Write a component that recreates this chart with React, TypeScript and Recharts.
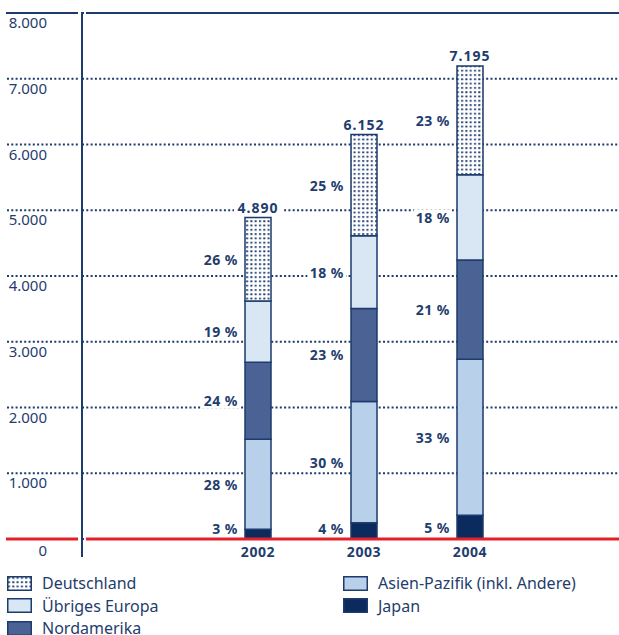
import React from 'react';
import { BarChart, Bar, XAxis, YAxis, CartesianGrid, ReferenceLine, LabelList } from 'recharts';

const years = ['2002', '2003', '2004'];
const totals = [4890, 6152, 7195];
const japan = [147, 246, 360];
const asien = [1369, 1846, 2374];
const nordamerika = [1174, 1415, 1511];
const europa = [929, 1107, 1295];
const deutschland = [1271, 1538, 1655];
const pctJapan = [3, 4, 5];
const pctAsien = [28, 30, 33];
const pctNord = [24, 23, 21];
const pctEuropa = [19, 18, 18];
const pctDeutsch = [26, 25, 23];
const yTicks = [0, 1000, 2000, 3000, 4000, 5000, 6000, 7000, 8000];

const data = years.map((y, i) => ({
  year: y,
  total: totals[i],
  japan: japan[i],
  asien: asien[i],
  nord: nordamerika[i],
  europa: europa[i],
  deutsch: deutschland[i],
  pJapan: pctJapan[i],
  pAsien: pctAsien[i],
  pNord: pctNord[i],
  pEuropa: pctEuropa[i],
  pDeutsch: pctDeutsch[i],
}));

const NAVY = '#1d3b6c';
const TEXT = '#1f3d6d';
const RED = '#e3202a';
const FONT = '"Noto Sans", sans-serif';

const C_JAPAN = '#0b2b5e';
const C_ASIEN = '#b9d0ea';
const C_NORD = '#4b6294';
const C_EUROPA = '#d9e6f4';

const fmt = (v: number) => (v === 0 ? '0' : v.toLocaleString('de-DE'));

const YTick = (props: any) => {
  const { y, payload } = props;
  const v = payload.value;
  let line;
  if (v === 0) {
    line = (
      <g>
        <line x1={6} x2={78} y1={y} y2={y} stroke={RED} strokeWidth={3} />
        <line x1={82} x2={82} y1={y - 527} y2={y + 18} stroke={NAVY} strokeWidth={2} />
      </g>
    );
  } else if (v === 8000) {
    line = <line x1={6} x2={78} y1={y} y2={y} stroke={NAVY} strokeWidth={2} />;
  } else {
    line = <line x1={7} x2={80} y1={y} y2={y} stroke={NAVY} strokeWidth={2} strokeDasharray="2 2.3" />;
  }
  return (
    <g>
      {line}
      <text x={47} y={y + (v === 0 ? 11 : 9)} textAnchor="end" dominantBaseline="central" fill={TEXT} fontSize={15} fontFamily={FONT}>
        {fmt(v)}
      </text>
    </g>
  );
};

const XTick = (props: any) => {
  const { x, y, payload } = props;
  return (
    <text x={x} y={y + 4} textAnchor="middle" dominantBaseline="central" fill={TEXT} fontSize={14} fontWeight="bold" letterSpacing={0.6} fontFamily={FONT}>
      {payload.value}
    </text>
  );
};

const PctLabel = (props: any) => {
  const { x, y, height, value } = props;
  const text = `${value} %`;
  const cy = Math.min(y + height / 2, y + height - 11);
  const w = text.length * 8.6;
  return (
    <g>
      <rect x={x - 9 - w} y={cy - 8} width={w + 4} height={16} fill="#ffffff" />
      <text x={x - 7} y={cy} textAnchor="end" dominantBaseline="central" fill={TEXT} fontSize={14} fontWeight="bold" letterSpacing={0.5} fontFamily={FONT}>
        {text}
      </text>
    </g>
  );
};

const TotalLabel = (props: any) => {
  const { x, y, width, value } = props;
  const text = fmt(value);
  const w = text.length * 8.4 + 6;
  return (
    <g>
      <rect x={x + width / 2 - w / 2} y={y - 18} width={w} height={16} fill="#ffffff" />
      <text x={x + width / 2} y={y - 10} textAnchor="middle" dominantBaseline="central" fill={TEXT} fontSize={14} fontWeight="bold" letterSpacing={1} fontFamily={FONT}>
        {text}
      </text>
    </g>
  );
};

const HLine = (color: string, w: number) => (props: any) => {
  const { x1, x2, y1 } = props;
  return <line x1={x1 + 4} x2={x2} y1={y1} y2={y1} stroke={color} strokeWidth={w} />;
};

const legendItems = [
  { label: 'Deutschland', fill: 'url(#dots)', col: 0, row: 0 },
  { label: 'Übriges Europa', fill: C_EUROPA, col: 0, row: 1 },
  { label: 'Nordamerika', fill: C_NORD, col: 0, row: 2 },
  { label: 'Asien-Pazifik (inkl. Andere)', fill: C_ASIEN, col: 1, row: 0 },
  { label: 'Japan', fill: C_JAPAN, col: 1, row: 1 },
];

export default function App() {
  return (
    <div style={{ position: 'absolute', left: 0, top: 0, width: 619, height: 635, background: '#fff', overflow: 'hidden' }}>
      <svg width={0} height={0} style={{ position: 'absolute' }}>
        <defs>
          <pattern id="dots" patternUnits="userSpaceOnUse" width={4.3} height={4.3}>
            <rect x={0} y={0} width={4.3} height={4.3} fill="#ffffff" />
            <rect x={1} y={1} width={2} height={1.8} fill={NAVY} />
          </pattern>
        </defs>
      </svg>
      <BarChart width={619} height={635} data={data} margin={{ top: 13, right: 0, bottom: 66, left: 0 }} barSize={26}>
        <defs>
          <pattern id="dotsChart" patternUnits="userSpaceOnUse" width={4.3} height={4.3}>
            <rect x={0} y={0} width={4.3} height={4.3} fill="#ffffff" />
            <rect x={1} y={1} width={2} height={1.8} fill={NAVY} />
          </pattern>
        </defs>
        <CartesianGrid vertical={false} stroke={NAVY} strokeWidth={2} strokeDasharray="2 2.3" />
        <XAxis dataKey="year" height={30} axisLine={false} tickLine={false} tick={<XTick />} padding={{ left: 123, right: 96 }} interval={0} />
        <YAxis width={82} domain={[0, 8000]} ticks={yTicks} axisLine={false} tickLine={false} tick={<YTick />} interval={0} />
        <Bar dataKey="japan" stackId="a" fill={C_JAPAN} stroke={NAVY} strokeWidth={1.5} isAnimationActive={false}>
          <LabelList dataKey="pJapan" content={<PctLabel />} />
        </Bar>
        <Bar dataKey="asien" stackId="a" fill={C_ASIEN} stroke={NAVY} strokeWidth={1.5} isAnimationActive={false}>
          <LabelList dataKey="pAsien" content={<PctLabel />} />
        </Bar>
        <Bar dataKey="nord" stackId="a" fill={C_NORD} stroke={NAVY} strokeWidth={1.5} isAnimationActive={false}>
          <LabelList dataKey="pNord" content={<PctLabel />} />
        </Bar>
        <Bar dataKey="europa" stackId="a" fill={C_EUROPA} stroke={NAVY} strokeWidth={1.5} isAnimationActive={false}>
          <LabelList dataKey="pEuropa" content={<PctLabel />} />
        </Bar>
        <Bar dataKey="deutsch" stackId="a" fill="url(#dotsChart)" stroke={NAVY} strokeWidth={1.5} isAnimationActive={false}>
          <LabelList dataKey="pDeutsch" content={<PctLabel />} />
          <LabelList dataKey="total" content={<TotalLabel />} />
        </Bar>
        <ReferenceLine y={8000} shape={HLine(NAVY, 2)} />
        <ReferenceLine y={0} shape={HLine(RED, 3)} />
      </BarChart>
      {legendItems.map((it) => (
        <div
          key={it.label}
          style={{
            position: 'absolute',
            left: it.col === 0 ? 7 : 343,
            top: 573 + it.row * 22.5,
            height: 20,
            display: 'flex',
            alignItems: 'center',
            fontFamily: FONT,
            fontSize: 16,
            color: TEXT,
            whiteSpace: 'nowrap',
          }}
        >
          <svg width={25} height={15} style={{ marginRight: 10 }}>
            <rect x={0.75} y={0.75} width={23.5} height={13.5} fill={it.fill} stroke={NAVY} strokeWidth={1.5} />
          </svg>
          {it.label}
        </div>
      ))}
    </div>
  );
}
